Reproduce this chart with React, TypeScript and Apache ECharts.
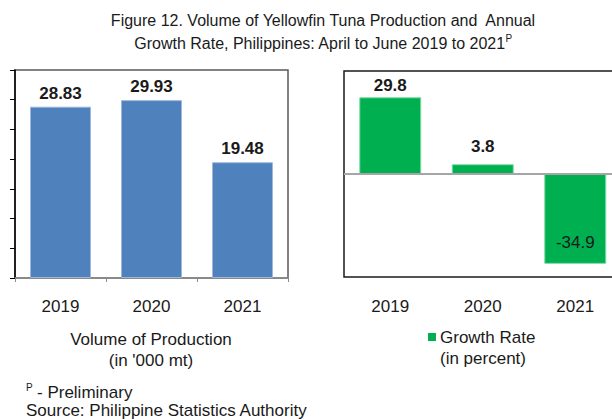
import React, { useEffect, useRef } from "react";
import * as echarts from "echarts";

const years = ["2019", "2020", "2021"];
const volume = [28.83, 29.93, 19.48];
const growth = [29.8, 3.8, -34.9];
const volumeAxis = { min: 0, max: 35, interval: 5 };
const growthAxis = { min: -40, max: 40, interval: 40 };

const titleLine1 = "Figure 12. Volume of Yellowfin Tuna Production and  Annual";
const titleLine2 = "Growth Rate, Philippines: April to June 2019 to 2021";
const leftCaption = "Volume of Production\n(in '000 mt)";
const legendText = "Growth Rate\n(in percent)";
const footnote1 = "- Preliminary";
const footnote2 = "Source: Philippine Statistics Authority";

const FONT = "'Liberation Sans', Arial, sans-serif";
const growthLabelDistance = [3, 9, 13];

export default function App() {
  const ref = useRef<HTMLDivElement>(null);
  useEffect(() => {
    if (!ref.current) return;
    const chart = echarts.init(ref.current, null, { renderer: "svg" });
    const option: any = {
      animation: false,
      backgroundColor: "#ffffff",
      textStyle: { fontFamily: FONT },
      grid: [
        {
          left: 15, top: 70, width: 273, height: 208,
          outerBoundsMode: "none", containLabel: false,
          show: true, borderColor: "#595959", borderWidth: 1.5, backgroundColor: "transparent",
        },
        {
          left: 344, top: 71, width: 277.5, height: 206,
          outerBoundsMode: "none", containLabel: false,
          show: true, borderColor: "#1a1a1a", borderWidth: 1.5, backgroundColor: "transparent",
        },
      ],
      xAxis: [
        {
          type: "category", gridIndex: 0, data: years,
          axisLine: { show: true, lineStyle: { color: "#8c8c8c", width: 1.5 } },
          axisTick: { show: true, length: 4, lineStyle: { color: "#8c8c8c" } },
          axisLabel: { margin: 20, fontSize: 17, color: "#1a1a1a", fontFamily: FONT },
        },
        {
          type: "category", gridIndex: 1, data: years,
          axisLine: { show: false, onZero: false },
          axisTick: { show: false },
          axisLabel: { margin: 21, fontSize: 17, color: "#1a1a1a", fontFamily: FONT },
        },
      ],
      yAxis: [
        {
          type: "value", gridIndex: 0, ...volumeAxis,
          axisLine: { show: true, lineStyle: { color: "#000000", width: 1.5 } },
          axisTick: { show: true, inside: false, length: 5, lineStyle: { color: "#000000" } },
          axisLabel: { show: false },
          splitLine: { show: false },
        },
        {
          type: "value", gridIndex: 1, ...growthAxis,
          axisLine: { show: false },
          axisTick: { show: false },
          axisLabel: { show: false },
          splitLine: { show: false },
        },
      ],
      series: [
        {
          type: "bar", xAxisIndex: 0, yAxisIndex: 0, data: volume, barWidth: 61,
          itemStyle: { color: "#4F81BD", borderColor: "#9db8dc", borderWidth: 1 },
          label: {
            show: true, position: "top", distance: 5, fontSize: 17, fontWeight: "bold",
            color: "#1a1a1a", fontFamily: FONT,
            formatter: (p: any) => Number(p.value).toFixed(2),
          },
        },
        {
          type: "bar", xAxisIndex: 1, yAxisIndex: 1, barWidth: 62,
          data: growth.map((v, i) => ({
            value: v,
            label: v < 0
              ? { position: "insideBottom", distance: growthLabelDistance[i], fontWeight: "normal" }
              : { position: "top", distance: growthLabelDistance[i] },
          })),
          itemStyle: { color: "#00B050", borderColor: "#7fdca6", borderWidth: 1 },
          label: {
            show: true, fontSize: 17, fontWeight: "bold", color: "#1a1a1a", fontFamily: FONT,
            formatter: (p: any) => Number(p.value).toFixed(1),
          },
          markLine: {
            silent: true, symbol: "none",
            label: { show: false },
            lineStyle: { color: "#a6a6a6", width: 2, type: "solid" },
            data: [{ yAxis: 0 }],
          },
        },
      ],
      graphic: [
        {
          type: "text", x: 323, y: 20,
          style: {
            text: titleLine1, fill: "#1a1a1a", font: `16px ${FONT}`,
            textAlign: "center", textVerticalAlign: "middle",
          },
        },
        {
          type: "text", x: 323, y: 43,
          style: {
            text: `{a|${titleLine2}}{s|P}`,
            fill: "#1a1a1a", textAlign: "center", textVerticalAlign: "middle",
            rich: {
              a: { fontSize: 16, fontFamily: FONT, fill: "#1a1a1a", lineHeight: 20 },
              s: { fontSize: 10, fontFamily: FONT, fill: "#1a1a1a", verticalAlign: "top", lineHeight: 20, padding: [0, 0, 8, 0] },
            },
          },
        },
        {
          type: "text", x: 151, y: 350,
          style: {
            text: leftCaption, fill: "#1a1a1a", font: `17px ${FONT}`,
            textAlign: "center", textVerticalAlign: "middle", lineHeight: 21,
          },
        },
        {
          type: "rect", shape: { x: 428, y: 333, width: 8, height: 8 },
          style: { fill: "#00B050" },
        },
        {
          type: "text", x: 440, y: 348,
          style: {
            text: legendText, fill: "#1a1a1a", font: `17px ${FONT}`,
            textAlign: "left", textVerticalAlign: "middle", lineHeight: 21,
          },
        },
        {
          type: "text", x: 26, y: 387,
          style: { text: "P", fill: "#1a1a1a", font: `10px ${FONT}`, textAlign: "left", textVerticalAlign: "middle" },
        },
        {
          type: "text", x: 37, y: 392,
          style: { text: footnote1, fill: "#1a1a1a", font: `17px ${FONT}`, textAlign: "left", textVerticalAlign: "middle" },
        },
        {
          type: "text", x: 26, y: 410,
          style: { text: footnote2, fill: "#1a1a1a", font: `17px ${FONT}`, textAlign: "left", textVerticalAlign: "middle" },
        },
      ],
    };
    chart.setOption(option);
    return () => chart.dispose();
  }, []);
  return (
    <div
      ref={ref}
      style={{ position: "fixed", left: 0, top: 0, width: 612, height: 419, background: "#fff" }}
    />
  );
}
